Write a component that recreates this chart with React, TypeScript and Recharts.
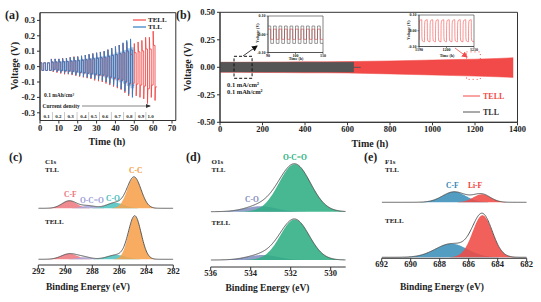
import React from "react";
import { ComposedChart, Line, Area, XAxis, YAxis, ReferenceArea } from "recharts";

const FONT = '"Liberation Serif", "Times New Roman", serif';
const RED = "#f24a48";
const BLUE = "#2f7dc4";
const LIGHT_BLUE = "#a9cbea";
const GRAY = "#555555";
const INK = "#222222";

// ---------- (a) rate test, one peak value per 2 h cycle ----------
const cyclePeriod = 2;
const tllUp = [0.025, 0.025, 0.025, 0.048, 0.05, 0.05, 0.052, 0.055, 0.06, 0.062, 0.065, 0.07, 0.075, 0.08, 0.085, 0.09, 0.095, 0.1, 0.11, 0.12, 0.13, 0.14, 0.155, 0.17, 0.18];
const tllDown = [-0.025, -0.025, -0.025, -0.03, -0.035, -0.04, -0.042, -0.045, -0.05, -0.055, -0.06, -0.065, -0.07, -0.075, -0.08, -0.085, -0.09, -0.1, -0.11, -0.12, -0.13, -0.145, -0.16, -0.18, -0.2];
const tellUp = [0.025, 0.025, 0.025, 0.05, 0.05, 0.05, 0.055, 0.055, 0.06, 0.065, 0.065, 0.07, 0.075, 0.08, 0.085, 0.09, 0.095, 0.1, 0.11, 0.12, 0.13, 0.14, 0.15, 0.16, 0.13, 0.15, 0.16, 0.17, 0.19, 0.19, 0.23];
const tellDown = [-0.025, -0.025, -0.025, -0.035, -0.04, -0.045, -0.05, -0.05, -0.055, -0.06, -0.065, -0.07, -0.075, -0.08, -0.09, -0.095, -0.1, -0.11, -0.12, -0.13, -0.14, -0.15, -0.17, -0.19, -0.18, -0.19, -0.2, -0.21, -0.24, -0.2, -0.22];
const stepLabels = ["0.1", "0.2", "0.3", "0.4", "0.5", "0.6", "0.7", "0.8", "0.9", "1.0"];
const stepCentres = [3.5, 9.7, 16.3, 23, 28.6, 34.5, 41.2, 47.4, 53.6, 58.7];

// ---------- (b) long cycling envelopes ----------
const tellBandT = [0, 100, 200, 300, 400, 500, 600, 700, 800, 900, 1000, 1100, 1200, 1300, 1380];
const tellBandHi = [0.045, 0.045, 0.047, 0.048, 0.05, 0.05, 0.052, 0.055, 0.058, 0.062, 0.066, 0.07, 0.074, 0.08, 0.087];
const tellBandLo = [-0.045, -0.045, -0.047, -0.048, -0.05, -0.05, -0.052, -0.056, -0.06, -0.065, -0.07, -0.075, -0.08, -0.086, -0.092];
const tllBandT = [0, 100, 200, 300, 400, 500, 600, 630];
const tllBandHi = [0.045, 0.045, 0.045, 0.045, 0.045, 0.045, 0.045, 0.045];
const tllBandLo = [-0.043, -0.043, -0.043, -0.043, -0.043, -0.043, -0.043, -0.043];
const tllTailT = [630, 662];
const tllTailV = [0, 0];

// insets
const inset1Starts = [90, 92, 94, 96, 98, 100, 102, 104, 106, 108];
const inset1Tll = [0.045, -0.05];
const inset1Tell = [0.028, -0.028];
const inset2Starts = [1190, 1192, 1194, 1196, 1198, 1200, 1202, 1204, 1206, 1208];
const inset2Tell = [0.07, -0.07];

// ---------- XPS peaks: centre (eV), height, FWHM (eV) ----------
const c1sColors = ["#ee7a82", "#a9a5d8", "#4fc3bf", "#f6a04c"];
const c1sTll = { base: 56.7, centre: [289.7, 288.3, 286.3, 284.9], height: [7.5, 2.5, 5.5, 31], fwhm: [1.3, 1.2, 1.5, 1.2] };
const c1sTell = { base: 5.7, centre: [289.7, 288.6, 286.2, 284.85], height: [5.5, 2, 4.3, 43], fwhm: [1.4, 1.2, 1.6, 1.1] };
const o1sColors = ["#7f8fbf", "#2fae83"];
const o1sTll = { base: 55.3, centre: [533.5, 531.8], height: [5.5, 47.5], fwhm: [1.8, 1.85] };
const o1sTell = { base: 7, centre: [533.4, 531.8], height: [5, 40.5], fwhm: [1.8, 1.7] };
const f1sColors = ["#3b8fb9", "#ef4a44"];
const f1sTll = { base: 56, centre: [687.0, 685.1], height: [10.5, 8], fwhm: [1.9, 1.4] };
const f1sTell = { base: 1, centre: [687.2, 685.05], height: [13.5, 42], fwhm: [2.6, 1.6] };

type Spec = { base: number; centre: number[]; height: number[]; fwhm: number[] };

function cycleTrace(ups: number[], downs: number[]) {
  const pts: { t: number; v: number }[] = [];
  const h = cyclePeriod / 2;
  ups.forEach((a, k) => {
    const b = downs[k];
    const s = k * cyclePeriod;
    const p = k < 3 ? 1 : 0.6;
    pts.push(
      { t: s, v: a },
      { t: s + 0.2, v: a * p },
      { t: s + h - 0.02, v: a * p },
      { t: s + h, v: b },
      { t: s + h + 0.2, v: b * p },
      { t: s + cyclePeriod - 0.02, v: b * p }
    );
  });
  return pts;
}

// pale fill between the plateaus of the TLL cycles
function cycleFill(ups: number[], downs: number[]) {
  const rows: { t: number; r: number[] }[] = [];
  ups.forEach((a, k) => {
    if (k < 3) return;
    const r = [downs[k] * 0.7, a * 0.7];
    rows.push({ t: k * cyclePeriod, r }, { t: (k + 1) * cyclePeriod - 0.05, r });
  });
  return rows;
}

function band(ts: number[], lo: number[], hi: number[]) {
  return ts.map((t, i) => ({ t, r: [lo[i], hi[i]] }));
}

function squareWave(starts: number[], [hi, lo]: number[]) {
  const pts: { t: number; v: number }[] = [];
  starts.forEach((s) => {
    pts.push({ t: s, v: hi }, { t: s + 1, v: hi }, { t: s + 1, v: lo }, { t: s + 2, v: lo });
  });
  return pts;
}

function roundWave(starts: number[], [hi, lo]: number[]) {
  const pts: { t: number; v: number }[] = [];
  starts.forEach((s) => {
    pts.push(
      { t: s, v: lo * 0.85 },
      { t: s + 0.06, v: hi * 0.6 },
      { t: s + 0.25, v: hi * 0.93 },
      { t: s + 1, v: hi },
      { t: s + 1.06, v: lo * 0.6 },
      { t: s + 1.25, v: lo * 0.93 },
      { t: s + 2, v: lo }
    );
  });
  return pts;
}

function buildSpectrum(domain: number[], spectra: Spec[]) {
  const rows: any[] = [];
  const n = 260;
  for (let i = 0; i <= n; i++) {
    const x = domain[0] + ((domain[1] - domain[0]) * i) / n;
    const row: any = { x };
    spectra.forEach((s, si) => {
      let sum = 0;
      s.centre.forEach((c, k) => {
        const sig = s.fwhm[k] / 2.3548;
        const g = s.height[k] * Math.exp(-((x - c) ** 2) / (2 * sig * sig));
        sum += g;
        row[`s${si}c${k}`] = [s.base, s.base + g];
      });
      row[`s${si}env`] = s.base + sum;
    });
    rows.push(row);
  }
  return rows;
}

const tickStyle = (size: number) => ({ fontSize: size, fontWeight: 700, fill: INK, fontFamily: FONT });
const axisLine = { stroke: "#333", strokeWidth: 1 };

function PanelA() {
  return (
    <ComposedChart width={185} height={150} margin={{ top: 12.7, right: 9.2, bottom: 0, left: 0 }}>
      <XAxis type="number" dataKey="t" domain={[0, 72]} ticks={[0, 10, 20, 30, 40, 50, 60, 70]} height={29.5}
        tick={tickStyle(8.5)} tickSize={3} tickMargin={1} axisLine={axisLine} tickLine={axisLine} allowDataOverflow />
      <YAxis type="number" domain={[-0.35, 0.35]} ticks={[-0.3, -0.2, -0.1, 0, 0.1, 0.2, 0.3]} width={40}
        tick={tickStyle(8.5)} tickSize={3} tickMargin={2} axisLine={axisLine} tickLine={axisLine}
        tickFormatter={(v: number) => v.toFixed(1)} allowDataOverflow />
      <ReferenceArea x1={0} x2={72} y1={-0.35} y2={0.35} fill="none" stroke="#333" strokeWidth={1} />
      <Line data={cycleTrace(tellUp, tellDown)} dataKey="v" type="linear" stroke={RED} strokeWidth={0.9} dot={false} isAnimationActive={false} />
      <Area data={cycleFill(tllUp, tllDown)} dataKey="r" type="linear" stroke="none" fill={LIGHT_BLUE} fillOpacity={1} isAnimationActive={false} />
      <Line data={cycleTrace(tllUp, tllDown)} dataKey="v" type="linear" stroke={BLUE} strokeWidth={0.9} dot={false} isAnimationActive={false} />
    </ComposedChart>
  );
}

function PanelB() {
  return (
    <ComposedChart width={366} height={150} margin={{ top: 12.3, right: 23.5, bottom: 0, left: 0 }}>
      <XAxis type="number" dataKey="t" domain={[0, 1400]} ticks={[0, 200, 400, 600, 800, 1000, 1200, 1400]} height={27.7}
        tick={tickStyle(8.5)} tickSize={3} tickMargin={1} axisLine={axisLine} tickLine={axisLine} allowDataOverflow />
      <YAxis type="number" domain={[-0.5, 0.5]} ticks={[-0.5, -0.25, 0, 0.25, 0.5]} width={45}
        tick={tickStyle(8.5)} tickSize={3} tickMargin={2} axisLine={axisLine} tickLine={axisLine}
        tickFormatter={(v: number) => v.toFixed(2)} allowDataOverflow />
      <ReferenceArea x1={0} x2={1400} y1={-0.5} y2={0.5} fill="none" stroke="#333" strokeWidth={1} />
      <Area data={band(tellBandT, tellBandLo, tellBandHi)} dataKey="r" type="linear" stroke={RED} strokeWidth={0.5} fill={RED} fillOpacity={1} isAnimationActive={false} />
      <Area data={band(tllBandT, tllBandLo, tllBandHi)} dataKey="r" type="linear" stroke={GRAY} strokeWidth={0.5} fill={GRAY} fillOpacity={1} isAnimationActive={false} />
      <Line data={tllTailT.map((t, i) => ({ t, v: tllTailV[i] }))} dataKey="v" stroke={GRAY} strokeWidth={1} dot={false} isAnimationActive={false} />
      <ReferenceArea x1={66} x2={151} y1={-0.1} y2={0.1} fill="none" stroke="#111" strokeWidth={1} strokeDasharray="3 2" />
      <ReferenceArea x1={1160} x2={1225} y1={-0.11} y2={0.14} fill="none" stroke={RED} strokeWidth={1} strokeDasharray="1 3" />
    </ComposedChart>
  );
}

function Inset({ w, h, domain, ticks, children }: { w: number; h: number; domain: number[]; ticks: number[]; children: React.ReactNode }) {
  return (
    <ComposedChart width={w} height={h} margin={{ top: 5, right: 7, bottom: 0, left: 0 }}>
      <XAxis type="number" dataKey="t" domain={domain} ticks={ticks} height={8} tick={tickStyle(4)} tickSize={1.5} tickMargin={0}
        axisLine={{ stroke: "#333", strokeWidth: 0.6 }} tickLine={{ stroke: "#333", strokeWidth: 0.6 }} allowDataOverflow />
      <YAxis type="number" domain={[-0.1, 0.1]} ticks={[-0.1, -0.05, 0, 0.05, 0.1]} width={18} tick={tickStyle(4)} tickSize={1.5} tickMargin={1}
        axisLine={{ stroke: "#333", strokeWidth: 0.6 }} tickLine={{ stroke: "#333", strokeWidth: 0.6 }}
        tickFormatter={(v: number) => v.toFixed(2)} allowDataOverflow />
      <ReferenceArea x1={domain[0]} x2={domain[1]} y1={-0.1} y2={0.1} fill="#fff" fillOpacity={1} stroke="#333" strokeWidth={0.6} />
      {children}
    </ComposedChart>
  );
}

function Xps({ w, h, ml, mr, domain, ticks, yMax, spectra, colors }: { w: number; h: number; ml: number; mr: number; domain: number[]; ticks: number[]; yMax: number; spectra: Spec[]; colors: string[] }) {
  const rows = buildSpectrum(domain, spectra);
  return (
    <ComposedChart width={w} height={h} data={rows} margin={{ top: 5, right: mr, bottom: 0, left: ml }}>
      <XAxis type="number" dataKey="x" domain={domain} ticks={ticks} reversed height={15} tick={tickStyle(8.5)} tickSize={3} tickMargin={0}
        axisLine={axisLine} tickLine={axisLine} allowDataOverflow />
      <YAxis type="number" domain={[0, yMax]} hide allowDataOverflow />
      {spectra.map((s, si) => (
        <React.Fragment key={si}>
          {s.centre.map((_, k) => (
            <Area key={k} dataKey={`s${si}c${k}`} type="monotone" stroke="none" fill={colors[k]} fillOpacity={0.88} isAnimationActive={false} />
          ))}
          <Line dataKey={`s${si}env`} type="monotone" stroke="#4a4a4a" strokeWidth={0.9} dot={false} isAnimationActive={false} />
        </React.Fragment>
      ))}
    </ComposedChart>
  );
}

function T({ x, y, s = 7, c = INK, a = "start", rot = false, children }: { x: number; y: number; s?: number; c?: string; a?: string; rot?: boolean; children: React.ReactNode }) {
  return (
    <text x={x} y={y} fontSize={s} fill={c} textAnchor={a as any} dominantBaseline="central" fontWeight={700} fontFamily={FONT}
      transform={rot ? `rotate(-90 ${x} ${y})` : undefined}>
      {children}
    </text>
  );
}

const ax = (t: number) => 40 + t * 1.886;

export default function App() {
  return (
    <div style={{ position: "absolute", left: 0, top: 0, width: 541, height: 302, background: "#fff", overflow: "hidden" }}>
      <div style={{ position: "absolute", left: 0, top: 0 }}><PanelA /></div>
      <div style={{ position: "absolute", left: 175, top: 0 }}><PanelB /></div>
      <div style={{ position: "absolute", left: 250, top: 10.5 }}>
        <Inset w={80} h={49.5} domain={[90, 110]} ticks={[90, 100, 110]}>
          <Line data={squareWave(inset1Starts, inset1Tell)} dataKey="v" stroke={RED} strokeWidth={0.6} dot={false} isAnimationActive={false} />
          <Line data={squareWave(inset1Starts, inset1Tll)} dataKey="v" stroke={GRAY} strokeWidth={0.6} dot={false} isAnimationActive={false} />
        </Inset>
      </div>
      <div style={{ position: "absolute", left: 401, top: 10 }}>
        <Inset w={80} h={44.5} domain={[1190, 1210]} ticks={[1190, 1200, 1210]}>
          <Line data={roundWave(inset2Starts, inset2Tell)} dataKey="v" type="monotone" stroke={RED} strokeWidth={0.6} dot={false} isAnimationActive={false} />
        </Inset>
      </div>
      <div style={{ position: "absolute", left: 0, top: 150 }}>
        <Xps w={180} h={130} ml={38.3} mr={6.7} domain={[282, 292]} ticks={[282, 284, 286, 288, 290, 292]} yMax={110} spectra={[c1sTll, c1sTell]} colors={c1sColors} />
      </div>
      <div style={{ position: "absolute", left: 180, top: 150 }}>
        <Xps w={180} h={132} ml={30.7} mr={14.3} domain={[529.25, 536]} ticks={[530, 532, 534, 536]} yMax={112} spectra={[o1sTll, o1sTell]} colors={o1sColors} />
      </div>
      <div style={{ position: "absolute", left: 360, top: 150 }}>
        <Xps w={181} h={123.3} ml={21.7} mr={14.3} domain={[682, 692]} ticks={[682, 684, 686, 688, 690, 692]} yMax={103.3} spectra={[f1sTll, f1sTell]} colors={f1sColors} />
      </div>

      <svg width={541} height={302} style={{ position: "absolute", left: 0, top: 0, pointerEvents: "none" }}>
        <defs>
          <marker id="hk" markerWidth="6" markerHeight="6" refX="5" refY="3" orient="auto" markerUnits="userSpaceOnUse">
            <path d="M0,0 L6,3 L0,6 z" fill="#111" />
          </marker>
          <marker id="hr" markerWidth="6" markerHeight="6" refX="5" refY="3" orient="auto" markerUnits="userSpaceOnUse">
            <path d="M0,0 L6,3 L0,6 z" fill={RED} />
          </marker>
          <marker id="hs" markerWidth="5" markerHeight="4" refX="4" refY="2" orient="auto" markerUnits="userSpaceOnUse">
            <path d="M0,0 L5,2 L0,4 z" fill="#333" />
          </marker>
        </defs>

        {/* (a) */}
        <T x={5} y={15} s={12}>(a)</T>
        <T x={14} y={66} s={10} a="middle" rot>Voltage (V)</T>
        <T x={107} y={141.5} s={10} a="middle">Time (h)</T>
        <line x1={133} y1={20} x2={146} y2={20} stroke={RED} strokeWidth={1.2} />
        <T x={148} y={20} s={7}>TELL</T>
        <line x1={133} y1={27} x2={146} y2={27} stroke={BLUE} strokeWidth={1.2} />
        <T x={148} y={27} s={7}>TLL</T>
        <T x={44} y={95} s={5.5}>0.1 mAh/cm²</T>
        <T x={42.5} y={106} s={5.5}>Current density</T>
        <line x1={82} y1={106} x2={150} y2={106} stroke="#333" strokeWidth={0.6} markerEnd="url(#hs)" />
        {stepLabels.map((l, i) => (
          <T key={l} x={ax(stepCentres[i])} y={116} s={5} a="middle">{l}</T>
        ))}
        {stepCentres.slice(1).map((c, i) => (
          <line key={i} x1={ax((c + stepCentres[i]) / 2)} y1={112} x2={ax((c + stepCentres[i]) / 2)} y2={120} stroke="#777" strokeWidth={0.4} />
        ))}

        {/* (b) */}
        <T x={176} y={15} s={12}>(b)</T>
        <T x={187.5} y={67} s={10} a="middle" rot>Voltage (V)</T>
        <T x={370} y={143.5} s={10} a="middle">Time (h)</T>
        <T x={227} y={84} s={6.5}>0.1 mA/cm²</T>
        <T x={227} y={91} s={6.5}>0.1 mAh/cm²</T>
        <line x1={463} y1={96} x2={480} y2={96} stroke={RED} strokeWidth={1} />
        <T x={483} y={96} s={8} c={RED}>TELL</T>
        <line x1={463} y1={112} x2={480} y2={112} stroke={GRAY} strokeWidth={1} />
        <T x={483} y={112} s={8} c="#333">TLL</T>
        <T x={257} y={33} s={4} a="middle" rot>Voltage (V)</T>
        <T x={296} y={58.5} s={4} a="middle">Time (h)</T>
        <T x={408} y={30} s={4} a="middle" rot>Voltage (V)</T>
        <T x={447} y={55} s={4} a="middle">Time (h)</T>
        <line x1={243} y1={56} x2={257} y2={46} stroke="#111" strokeWidth={0.8} markerEnd="url(#hk)" />
        <line x1={455} y1={48} x2={467} y2={57} stroke={RED} strokeWidth={0.8} markerEnd="url(#hr)" />

        {/* (c) */}
        <T x={9} y={157} s={12}>(c)</T>
        <T x={45} y={161.5} s={7}>C1s</T>
        <T x={45} y={169.5} s={7}>TLL</T>
        <T x={45} y={221.5} s={7}>TELL</T>
        <T x={64} y={194.5} s={7.5} c="#ee6f78">C-F</T>
        <T x={80} y={200.5} s={7.5} c="#9c9ad6">O-C=O</T>
        <T x={106} y={198.5} s={7.5} c="#3fbdbb">C-O</T>
        <T x={129} y={170} s={7.5} c="#f39a3c">C-C</T>
        <T x={88} y={287} s={9.5} a="middle">Binding Energy (eV)</T>

        {/* (d) */}
        <T x={186} y={157} s={12}>(d)</T>
        <T x={211.5} y={161.5} s={7}>O1s</T>
        <T x={211.5} y={169.5} s={7}>TLL</T>
        <T x={211.5} y={222.5} s={7}>TELL</T>
        <T x={283} y={157} s={7.5} c="#22b07d">O-C=O</T>
        <T x={245} y={199} s={7.5} c="#8088c0">C-O</T>
        <T x={267.5} y={288} s={9.5} a="middle">Binding Energy (eV)</T>

        {/* (e) */}
        <T x={364} y={157} s={12}>(e)</T>
        <T x={385} y={161.5} s={7}>F1s</T>
        <T x={385} y={169.5} s={7}>TLL</T>
        <T x={385} y={220.5} s={7}>TELL</T>
        <T x={446} y={185} s={7.5} c="#2f86b3">C-F</T>
        <T x={468} y={185} s={7.5} c="#ee3b33">Li-F</T>
        <T x={442} y={287} s={9.5} a="middle">Binding Energy (eV)</T>
      </svg>
    </div>
  );
}
